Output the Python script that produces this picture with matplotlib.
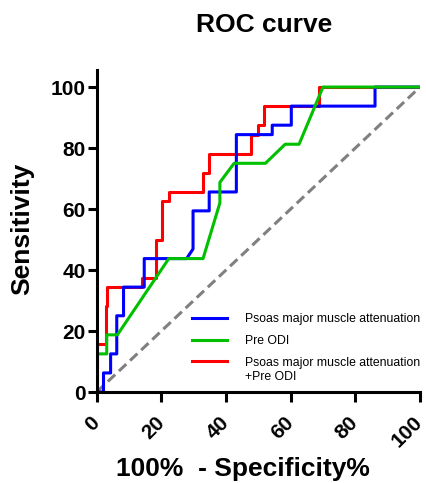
import matplotlib
matplotlib.use('Agg')
import matplotlib.pyplot as plt

# ROC curves (100% - specificity%, sensitivity%)
psoas_x = [0, 2.1, 2.1, 4.3, 4.3, 6.2, 6.2, 8.3, 8.3, 14.7, 14.7, 27.8, 29.8, 29.8,
           34.8, 34.8, 43.2, 43.2, 54.3, 54.3, 60.2, 60.2, 86.1, 86.1, 100]
psoas_y = [0, 0, 6.25, 6.25, 12.5, 12.5, 25, 25, 34.4, 34.4, 43.75, 43.75, 46.9, 59.4,
           59.4, 65.6, 65.6, 84.4, 84.4, 87.5, 87.5, 93.75, 93.75, 100, 100]

odi_x = [0, 0, 3.1, 3.1, 6.4, 22.3, 32.9, 38.1, 38.1, 42.5, 52.2, 58.3, 62.6, 70, 100]
odi_y = [6.25, 12.5, 12.5, 18.75, 18.75, 43.75, 43.75, 62, 68.75, 75, 75, 81.25, 81.25, 100, 100]

comb_x = [0, 0, 2.9, 2.9, 3.3, 3.3, 13.9, 13.9, 18.2, 18.2, 20.1, 20.1, 22.3, 22.3,
          32.9, 32.9, 34.8, 34.8, 47.8, 47.8, 49.9, 49.9, 51.7, 51.7, 68.9, 68.9, 100]
comb_y = [0, 15.6, 15.6, 28.1, 28.1, 34.4, 34.4, 37.5, 37.5, 50, 50, 62.5, 62.5, 65.6,
          65.6, 71.9, 71.9, 78.1, 78.1, 84.4, 84.4, 87.5, 87.5, 93.75, 93.75, 100, 100]

ref_line = [0, 100]
ticks = [0, 20, 40, 60, 80, 100]

plt.rcParams['font.family'] = ['Liberation Sans', 'DejaVu Sans']

fig = plt.figure(figsize=(4.27, 4.83), dpi=100)
ax = fig.add_axes([0.2265, 0.1884, 0.757, 0.6667])

ax.plot(ref_line, ref_line, color='#808080', lw=2.2, dashes=(3.3, 1.7))
ax.plot(comb_x, comb_y, color='#ff0000', lw=2.2, label='Psoas major muscle attenuation')
ax.plot(psoas_x, psoas_y, color='#0000ff', lw=2.2, label='Psoas major muscle attenuation')
ax.plot(odi_x, odi_y, color='#00c000', lw=2.2, label='Pre ODI')

ax.set_xlim(0, 100)
ax.set_ylim(0, 105.6)
for s in ['top', 'right']:
    ax.spines[s].set_visible(False)
for s in ['left', 'bottom']:
    ax.spines[s].set_linewidth(2.2)

ax.set_xticks(ticks)
ax.set_yticks(ticks)
ax.set_xticklabels([str(t) for t in ticks], rotation=45, ha='right', va='center',
                   rotation_mode='anchor', fontsize=15, fontweight='bold')
ax.set_yticklabels([str(t) for t in ticks], fontsize=15, fontweight='bold')
ax.tick_params(axis='x', length=7, width=2.2, pad=13)
ax.tick_params(axis='y', length=6.5, width=2.2, pad=1.5)

# legend order: blue, green, red
h, l = ax.get_legend_handles_labels()
leg = ax.legend([h[1], h[2], h[0]], [l[1], l[2], l[0]], loc='upper left',
                bbox_to_anchor=(0.294, 0.245), frameon=False, fontsize=8.8,
                borderpad=0, borderaxespad=0, handlelength=2.85,
                handletextpad=1.5, labelspacing=0.8)
ax.text(0.4587, 0.0475, '+Pre ODI', transform=ax.transAxes, fontsize=8.8,
        ha='left', va='center')

fig.text(264 / 427, 1 - 25 / 483, 'ROC curve', ha='center', va='center',
         fontsize=19, fontweight='bold')
fig.text(22.5 / 427, 1 - 229 / 483, 'Sensitivity', rotation=90, ha='center',
         va='center', fontsize=19, fontweight='bold')
fig.text(242.5 / 427, 1 - 469 / 483, '100%  - Specificity%', ha='center',
         va='center', fontsize=19, fontweight='bold')

fig.savefig('out.png', dpi=100)
